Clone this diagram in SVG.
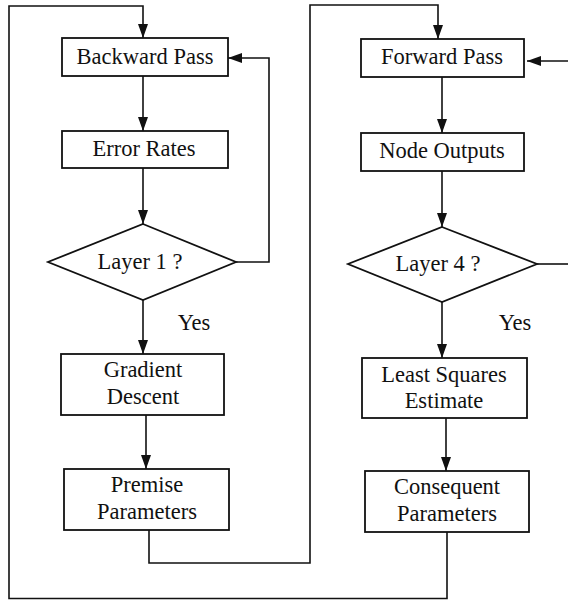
<svg xmlns="http://www.w3.org/2000/svg" width="568" height="600" viewBox="0 0 568 600">
<defs>
<style>
.box{fill:#fff;stroke:#111;stroke-width:1.8}
.t{font-family:"Liberation Serif","Times New Roman",serif;font-size:22.5px;fill:#111;text-anchor:middle}
.c{fill:none;stroke:#111;stroke-width:1.6}
</style>
<marker id="ah" markerUnits="userSpaceOnUse" markerWidth="14" markerHeight="10" refX="14" refY="5" orient="auto">
<path d="M0,0 L14,5 L0,10 Z" fill="#111"/>
</marker>
</defs>
<g id="connectors">
<path class="c" d="M447,532 V598.5 H9 V6 H143 V38" marker-end="url(#ah)"/>
<path class="c" d="M143,76 V131" marker-end="url(#ah)"/>
<path class="c" d="M143,168 V224" marker-end="url(#ah)"/>
<path class="c" d="M143,300 V354" marker-end="url(#ah)"/>
<path class="c" d="M236,262 H269 V58 H228" marker-end="url(#ah)"/>
<path class="c" d="M146,415 V469" marker-end="url(#ah)"/>
<path class="c" d="M149,530 V563 H310 V5 H438 V39" marker-end="url(#ah)"/>
<path class="c" d="M442,77 V133" marker-end="url(#ah)"/>
<path class="c" d="M442,171 V227" marker-end="url(#ah)"/>
<path class="c" d="M442,302 V358" marker-end="url(#ah)"/>
<path class="c" d="M446,418 V471" marker-end="url(#ah)"/>
<path class="c" d="M537,264 H568"/>
<path class="c" d="M568,61 H527" marker-end="url(#ah)"/>
</g>
<g id="backward-pass"><rect class="box" x="62" y="38" width="166" height="38"/><text class="t" x="145" y="64">Backward Pass</text></g>
<g id="error-rates"><rect class="box" x="62" y="131" width="166" height="37"/><text class="t" x="144" y="156">Error Rates</text></g>
<g id="layer1"><polygon class="box" points="143,224 236,262 143,300 48,262"/><text class="t" x="140" y="269">Layer 1 ?</text></g>
<text class="t" x="194" y="330">Yes</text>
<g id="gradient-descent"><rect class="box" x="61" y="354" width="163" height="61"/><text class="t" x="143" y="377">Gradient</text><text class="t" x="143" y="404">Descent</text></g>
<g id="premise-parameters"><rect class="box" x="64" y="469" width="165" height="61"/><text class="t" x="147" y="492">Premise</text><text class="t" x="147" y="519">Parameters</text></g>
<g id="forward-pass"><rect class="box" x="361" y="39" width="163" height="38"/><text class="t" x="442" y="64">Forward Pass</text></g>
<g id="node-outputs"><rect class="box" x="361" y="133" width="163" height="38"/><text class="t" x="442" y="158">Node Outputs</text></g>
<g id="layer4"><polygon class="box" points="442,227 537,264 442,302 348,264"/><text class="t" x="438" y="271">Layer 4 ?</text></g>
<text class="t" x="515" y="330">Yes</text>
<g id="least-squares"><rect class="box" x="362" y="358" width="165" height="60"/><text class="t" x="444" y="382">Least Squares</text><text class="t" x="444" y="408">Estimate</text></g>
<g id="consequent-parameters"><rect class="box" x="365" y="471" width="164" height="61"/><text class="t" x="447" y="494">Consequent</text><text class="t" x="447" y="521">Parameters</text></g>
</svg>
